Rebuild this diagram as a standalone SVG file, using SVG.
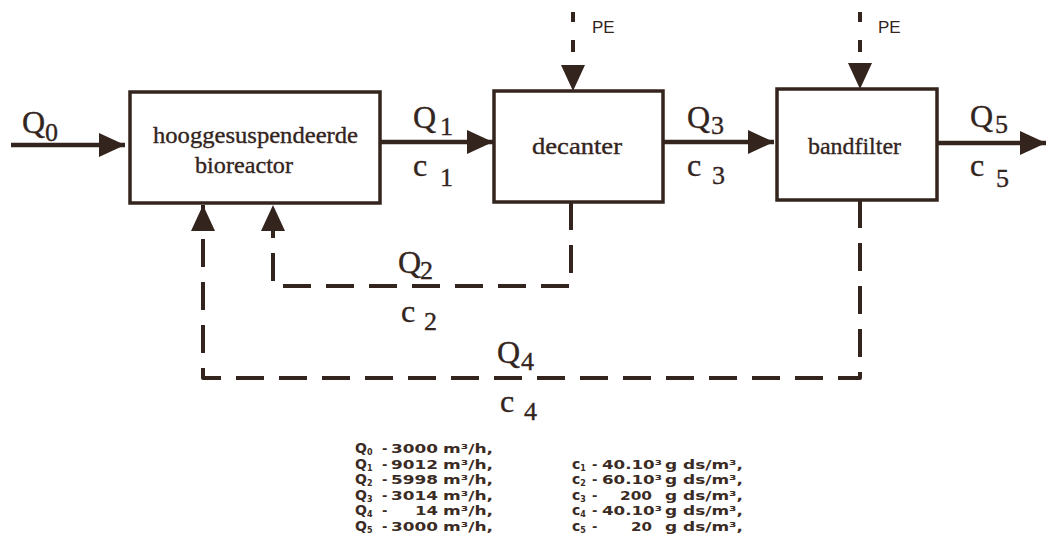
<svg xmlns="http://www.w3.org/2000/svg" width="1056" height="538" viewBox="0 0 1056 538">
<style>
.box{fill:#fff;stroke:#33241d;stroke-width:3.5}
.lbl{font-family:"Liberation Serif","Times New Roman",serif;fill:#33241d;stroke:#33241d;stroke-width:0.35}
.node{font-size:24px}
.q{font-size:32px}
.sub{font-size:26px}
.flow{stroke:#33241d;stroke-width:4.5;fill:none}
.pe{stroke:#33241d;stroke-width:4;fill:none;stroke-dasharray:10 18 12 200}
.ret{stroke:#33241d;stroke-width:4;fill:none;stroke-dasharray:28 15;stroke-linejoin:round}
.pet{font-family:"Liberation Sans",Arial,sans-serif;font-size:17px;fill:#33241d}
.tab{font-family:"DejaVu Sans",sans-serif;font-weight:bold;font-size:13px;fill:#3a2b24}
.tl{font-size:14px}
.ts{font-size:8px}
</style>
<defs>
<marker id="ah" markerUnits="userSpaceOnUse" viewBox="0 0 26 24" refX="26" refY="12" markerWidth="26" markerHeight="24" orient="auto">
<path d="M0,0 L26,12 L0,24 z" fill="#33241d"/>
</marker>
</defs>
<rect width="1056" height="538" fill="#fff"/>

<g id="bioreactor">
<rect class="box" x="130" y="92" width="250" height="111"/>
<text class="lbl node" x="153" y="143" textLength="205" lengthAdjust="spacingAndGlyphs">hooggesuspendeerde</text>
<text class="lbl node" x="195" y="173" textLength="98" lengthAdjust="spacingAndGlyphs">bioreactor</text>
</g>
<g id="decanter">
<rect class="box" x="494" y="91" width="169" height="111"/>
<text class="lbl node" x="532" y="154" textLength="90" lengthAdjust="spacingAndGlyphs">decanter</text>
</g>
<g id="bandfilter">
<rect class="box" x="777" y="89" width="160" height="111"/>
<text class="lbl node" x="808" y="154" textLength="93" lengthAdjust="spacingAndGlyphs">bandfilter</text>
</g>

<g id="connectors">
<path class="flow" d="M11,145 H125" marker-end="url(#ah)"/>
<path class="flow" d="M380,142 H493" marker-end="url(#ah)"/>
<path class="flow" d="M663,142 H774" marker-end="url(#ah)"/>
<path class="flow" d="M937,143 H1046" marker-end="url(#ah)"/>
<path class="pe" d="M573,12 V91" marker-end="url(#ah)"/>
<path class="pe" d="M860,12 V89" marker-end="url(#ah)"/>
<path class="ret" d="M571,202 V286 H273 V205" marker-end="url(#ah)"/>
<path class="ret" d="M860,200 V378 H203 V205" marker-end="url(#ah)"/>
</g>

<g id="flow-labels">
<text class="lbl q" x="22" y="133">Q</text><text class="lbl sub" x="45" y="141">0</text>
<text class="lbl q" x="413" y="128">Q</text><text class="lbl sub" x="440" y="135">1</text>
<text class="lbl q" x="413" y="176">c</text><text class="lbl sub" x="440" y="186">1</text>
<text class="lbl q" x="687" y="128">Q</text><text class="lbl sub" x="711" y="134">3</text>
<text class="lbl q" x="687" y="176">c</text><text class="lbl sub" x="712" y="184">3</text>
<text class="lbl q" x="970" y="127">Q</text><text class="lbl sub" x="995" y="133">5</text>
<text class="lbl q" x="970" y="176">c</text><text class="lbl sub" x="996" y="187">5</text>
<text class="lbl q" x="398" y="273">Q</text><text class="lbl sub" x="420" y="279">2</text>
<text class="lbl q" x="401" y="322">c</text><text class="lbl sub" x="424" y="330">2</text>
<text class="lbl q" x="497" y="363">Q</text><text class="lbl sub" x="521" y="370">4</text>
<text class="lbl q" x="500" y="412">c</text><text class="lbl sub" x="524" y="420">4</text>
<text class="pet" x="592" y="33">PE</text>
<text class="pet" x="878" y="33">PE</text>
</g>

<g id="legend">
<text class="tab" y="453"><tspan class="tl" x="355">Q</tspan><tspan class="ts" dy="2">0</tspan><tspan x="382" dy="-2">-</tspan></text>
<text class="tab" x="391" y="453" textLength="47" lengthAdjust="spacingAndGlyphs">3000</text>
<text class="tab" x="443" y="453" textLength="50" lengthAdjust="spacingAndGlyphs">m³/h,</text>

<text class="tab" y="468.5"><tspan class="tl" x="355">Q</tspan><tspan class="ts" dy="2">1</tspan><tspan x="382" dy="-2">-</tspan></text>
<text class="tab" x="391" y="468.5" textLength="47" lengthAdjust="spacingAndGlyphs">9012</text>
<text class="tab" x="443" y="468.5" textLength="50" lengthAdjust="spacingAndGlyphs">m³/h,</text>

<text class="tab" y="484"><tspan class="tl" x="355">Q</tspan><tspan class="ts" dy="2">2</tspan><tspan x="382" dy="-2">-</tspan></text>
<text class="tab" x="391" y="484" textLength="47" lengthAdjust="spacingAndGlyphs">5998</text>
<text class="tab" x="443" y="484" textLength="50" lengthAdjust="spacingAndGlyphs">m³/h,</text>

<text class="tab" y="499.5"><tspan class="tl" x="355">Q</tspan><tspan class="ts" dy="2">3</tspan><tspan x="382" dy="-2">-</tspan></text>
<text class="tab" x="391" y="499.5" textLength="47" lengthAdjust="spacingAndGlyphs">3014</text>
<text class="tab" x="443" y="499.5" textLength="50" lengthAdjust="spacingAndGlyphs">m³/h,</text>

<text class="tab" y="515"><tspan class="tl" x="355">Q</tspan><tspan class="ts" dy="2">4</tspan><tspan x="382" dy="-2">-</tspan></text>
<text class="tab" x="415" y="515" textLength="23" lengthAdjust="spacingAndGlyphs">14</text>
<text class="tab" x="443" y="515" textLength="50" lengthAdjust="spacingAndGlyphs">m³/h,</text>

<text class="tab" y="530.5"><tspan class="tl" x="355">Q</tspan><tspan class="ts" dy="2">5</tspan><tspan x="382" dy="-2">-</tspan></text>
<text class="tab" x="391" y="530.5" textLength="47" lengthAdjust="spacingAndGlyphs">3000</text>
<text class="tab" x="443" y="530.5" textLength="50" lengthAdjust="spacingAndGlyphs">m³/h,</text>

<text class="tab" y="468.5"><tspan class="tl" x="572">c</tspan><tspan class="ts" dy="2">1</tspan><tspan x="592" dy="-2">-</tspan></text>
<text class="tab" x="602" y="468.5" textLength="60" lengthAdjust="spacingAndGlyphs">40.10³</text>
<text class="tab" x="665" y="468.5" textLength="78" lengthAdjust="spacingAndGlyphs">g ds/m³,</text>

<text class="tab" y="484"><tspan class="tl" x="572">c</tspan><tspan class="ts" dy="2">2</tspan><tspan x="592" dy="-2">-</tspan></text>
<text class="tab" x="602" y="484" textLength="60" lengthAdjust="spacingAndGlyphs">60.10³</text>
<text class="tab" x="665" y="484" textLength="78" lengthAdjust="spacingAndGlyphs">g ds/m³,</text>

<text class="tab" y="499.5"><tspan class="tl" x="572">c</tspan><tspan class="ts" dy="2">3</tspan><tspan x="592" dy="-2">-</tspan></text>
<text class="tab" x="620" y="499.5" textLength="32" lengthAdjust="spacingAndGlyphs">200</text>
<text class="tab" x="665" y="499.5" textLength="78" lengthAdjust="spacingAndGlyphs">g ds/m³,</text>

<text class="tab" y="515"><tspan class="tl" x="572">c</tspan><tspan class="ts" dy="2">4</tspan><tspan x="592" dy="-2">-</tspan></text>
<text class="tab" x="602" y="515" textLength="60" lengthAdjust="spacingAndGlyphs">40.10³</text>
<text class="tab" x="665" y="515" textLength="78" lengthAdjust="spacingAndGlyphs">g ds/m³,</text>

<text class="tab" y="530.5"><tspan class="tl" x="572">c</tspan><tspan class="ts" dy="2">5</tspan><tspan x="592" dy="-2">-</tspan></text>
<text class="tab" x="631" y="530.5" textLength="21" lengthAdjust="spacingAndGlyphs">20</text>
<text class="tab" x="665" y="530.5" textLength="78" lengthAdjust="spacingAndGlyphs">g ds/m³,</text>
</g>
</svg>
